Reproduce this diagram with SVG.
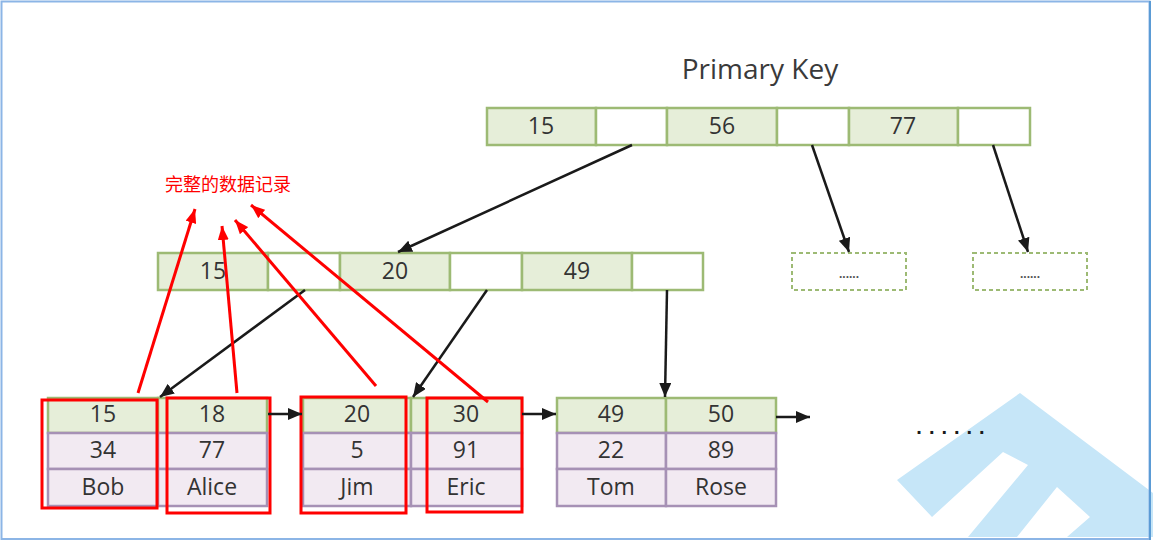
<svg xmlns="http://www.w3.org/2000/svg" width="1154" height="543" viewBox="0 0 1154 543">
<defs>
<marker id="ab" viewBox="0 0 14 12" refX="14" refY="6" markerWidth="14" markerHeight="12" markerUnits="userSpaceOnUse" orient="auto"><path d="M0,0 L14,6 L0,12 z" fill="#1a1a1a"/></marker>
<marker id="ar" viewBox="0 0 14 11" refX="14" refY="5.5" markerWidth="14" markerHeight="11" markerUnits="userSpaceOnUse" orient="auto"><path d="M0,0 L14,5.5 L0,11 z" fill="#ff0000"/></marker>
<style>
.g{fill:#e6eed9;stroke:#9dba74;stroke-width:2.5}
.w{fill:#ffffff;stroke:#9dba74;stroke-width:2.5}
.p{fill:#f2eaf2;stroke:#a691b5;stroke-width:2.5}
.t{font-family:"Open Sans","Noto Sans",sans-serif;font-size:23px;fill:#333333;text-anchor:middle}
.d{fill:#ffffff;stroke:#9dba74;stroke-width:2;stroke-dasharray:4 3}
.bl{stroke:#1a1a1a;stroke-width:2.5;fill:none;marker-end:url(#ab)}
.rd{stroke:#ff0000;stroke-width:3;fill:none;marker-end:url(#ar)}
.rb{fill:none;stroke:#ff0000;stroke-width:3}
</style>
</defs>
<rect x="0" y="0" width="1154" height="543" fill="#ffffff"/>
<polygon fill="#c6e6f8" points="897,480 1020,393 1153,493 1153,537 1067,537 1090,517 1057,487 1017,537 968,537 1028,465 1003,452 932,517"/>
<text x="760" y="79" font-family="'Open Sans','Noto Sans',sans-serif" font-size="28" fill="#3a3a3a" text-anchor="middle">Primary Key</text>
<g id="root">
<rect class="g" x="487" y="108" width="109" height="37"/>
<rect class="w" x="596" y="108" width="71" height="37"/>
<rect class="g" x="667" y="108" width="110" height="37"/>
<rect class="w" x="777" y="108" width="72" height="37"/>
<rect class="g" x="849" y="108" width="109" height="37"/>
<rect class="w" x="958" y="108" width="72" height="37"/>
<text class="t" x="541" y="134">15</text>
<text class="t" x="722" y="134">56</text>
<text class="t" x="903" y="134">77</text>
</g>
<g id="inner">
<rect class="g" x="158" y="253" width="110" height="37"/>
<rect class="w" x="268" y="253" width="72" height="37"/>
<rect class="g" x="340" y="253" width="110" height="37"/>
<rect class="w" x="450" y="253" width="72" height="37"/>
<rect class="g" x="522" y="253" width="110" height="37"/>
<rect class="w" x="632" y="253" width="71" height="37"/>
<text class="t" x="213" y="279">15</text>
<text class="t" x="395" y="279">20</text>
<text class="t" x="577" y="279">49</text>
</g>
<g id="more1">
<rect class="d" x="792" y="253" width="114" height="37"/>
<text x="849" y="278" font-family="'Liberation Sans',sans-serif" font-size="12" font-weight="bold" fill="#555555" text-anchor="middle">......</text>
</g>
<g id="more2">
<rect class="d" x="973" y="253" width="114" height="37"/>
<text x="1030" y="278" font-family="'Liberation Sans',sans-serif" font-size="12" font-weight="bold" fill="#555555" text-anchor="middle">......</text>
</g>
<g id="leaf1">
<rect class="g" x="48" y="398" width="110" height="35"/>
<rect class="g" x="158" y="398" width="109" height="35"/>
<rect class="p" x="48" y="433" width="110" height="36"/>
<rect class="p" x="158" y="433" width="109" height="36"/>
<rect class="p" x="48" y="469" width="110" height="37"/>
<rect class="p" x="158" y="469" width="109" height="37"/>
<text class="t" x="103" y="422">15</text>
<text class="t" x="212" y="422">18</text>
<text class="t" x="103" y="458">34</text>
<text class="t" x="212" y="458">77</text>
<text class="t" x="103" y="495">Bob</text>
<text class="t" x="212" y="495">Alice</text>
</g>
<g id="leaf2">
<rect class="g" x="303" y="398" width="108" height="35"/>
<rect class="g" x="411" y="398" width="111" height="35"/>
<rect class="p" x="303" y="433" width="108" height="36"/>
<rect class="p" x="411" y="433" width="111" height="36"/>
<rect class="p" x="303" y="469" width="108" height="37"/>
<rect class="p" x="411" y="469" width="111" height="37"/>
<text class="t" x="357" y="422">20</text>
<text class="t" x="466" y="422">30</text>
<text class="t" x="357" y="458">5</text>
<text class="t" x="466" y="458">91</text>
<text class="t" x="357" y="495">Jim</text>
<text class="t" x="466" y="495">Eric</text>
</g>
<g id="leaf3">
<rect class="g" x="557" y="398" width="109" height="35"/>
<rect class="g" x="666" y="398" width="110" height="35"/>
<rect class="p" x="557" y="433" width="109" height="36"/>
<rect class="p" x="666" y="433" width="110" height="36"/>
<rect class="p" x="557" y="469" width="109" height="37"/>
<rect class="p" x="666" y="469" width="110" height="37"/>
<text class="t" x="611" y="422">49</text>
<text class="t" x="721" y="422">50</text>
<text class="t" x="611" y="458">22</text>
<text class="t" x="721" y="458">89</text>
<text class="t" x="611" y="495">Tom</text>
<text class="t" x="721" y="495">Rose</text>
</g>
<text x="954" y="434" font-family="'Liberation Sans',sans-serif" font-size="20" font-weight="bold" fill="#1a1a1a" text-anchor="middle" letter-spacing="7">......</text>
<g id="highlights">
<rect class="rb" x="42" y="400" width="115" height="108"/>
<rect class="rb" x="167" y="398" width="103" height="115"/>
<rect class="rb" x="301" y="397" width="105" height="116"/>
<rect class="rb" x="427" y="398" width="95" height="114"/>
</g>
<text id="label" x="165" y="191" font-family="'Noto Sans CJK SC',sans-serif" font-size="18" fill="#ff0000">完整的数据记录</text>
<g id="connectors">
<line class="bl" x1="632" y1="145" x2="398" y2="252"/>
<line class="bl" x1="812" y1="145" x2="849" y2="252"/>
<line class="bl" x1="993" y1="145" x2="1028" y2="252"/>
<line class="bl" x1="305" y1="290" x2="160" y2="397"/>
<line class="bl" x1="487" y1="290" x2="413" y2="397"/>
<line class="bl" x1="667" y1="290" x2="665" y2="397"/>
<line class="bl" x1="268" y1="414" x2="302" y2="414"/>
<line class="bl" x1="522" y1="414" x2="556" y2="414"/>
<line class="bl" x1="776" y1="417" x2="810" y2="417"/>
<line class="rd" x1="138" y1="393" x2="195" y2="209"/>
<line class="rd" x1="237" y1="393" x2="222" y2="226"/>
<line class="rd" x1="376" y1="386" x2="235" y2="220"/>
<line class="rd" x1="488" y1="402" x2="251" y2="205"/>
</g>
<rect x="1.5" y="1.5" width="1148" height="537.5" fill="none" stroke="#8cb5e6" stroke-width="2"/>
<line x1="1150" y1="1" x2="1150" y2="540" stroke="#5b9bd5" stroke-width="2"/>
</svg>
